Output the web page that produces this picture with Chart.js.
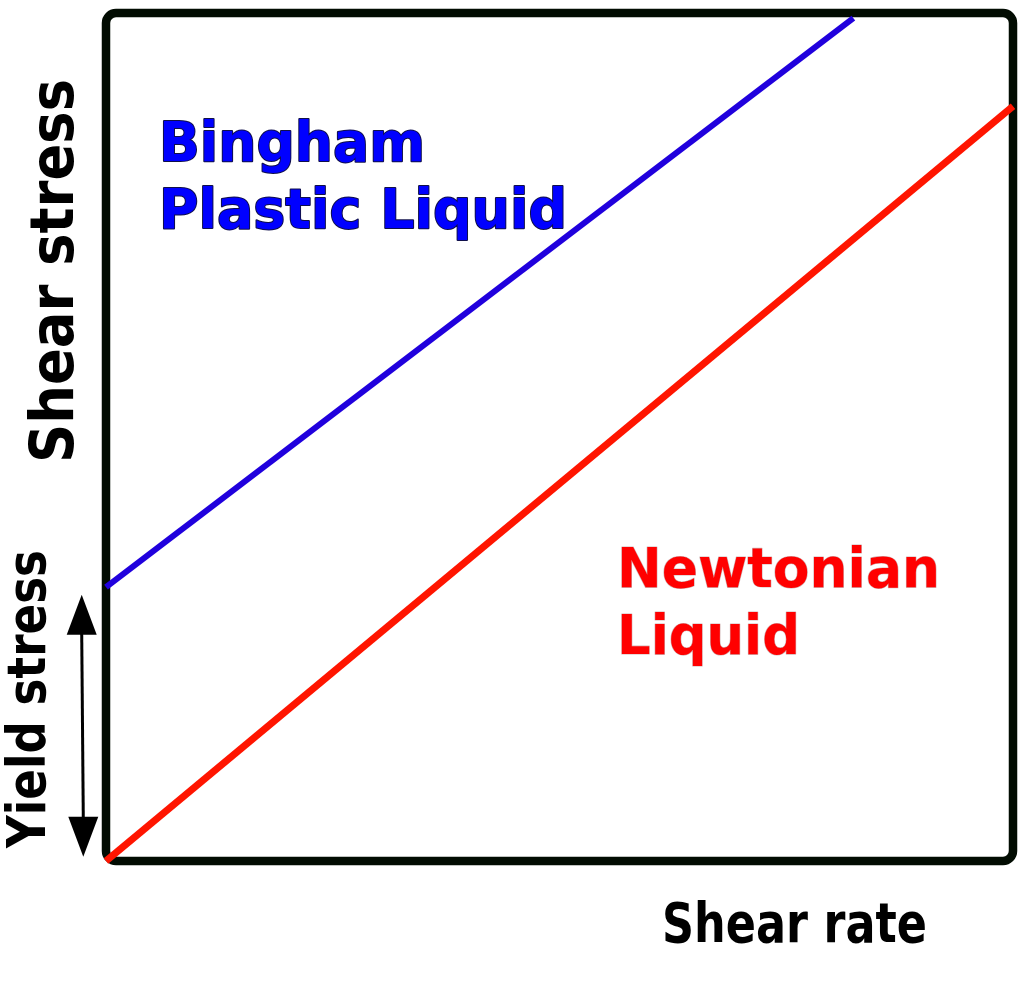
<!DOCTYPE html>
<html>
<head>
<meta charset="utf-8">
<script src="https://cdn.jsdelivr.net/npm/chart.js@4"></script>
<style>
  html, body { margin: 0; padding: 0; background: #ffffff; }
  canvas { display: block; }
</style>
</head>
<body>
<canvas id="c" width="1024" height="997"></canvas>
<script>
// Data (arbitrary units, 0–100 on each axis)
const newtonianRate   = [0, 100];
const newtonianStress = [0, 89];
const binghamRate     = [0, 82.4];
const binghamStress   = [32.3, 99.4];
const yieldRange      = [0.5, 31.4];   // yield-stress arrow extent (y units)

const xLabel = 'Shear rate';
const yLabel = 'Shear stress';
const yieldLabel = 'Yield stress';
const binghamLabel = ['Bingham', 'Plastic Liquid'];
const newtonLabel = ['Newtonian', 'Liquid'];

function pts(xs, ys) { return xs.map((x, i) => ({ x: x, y: ys[i] })); }

function drawScaledText(ctx, str, x, y, size, width, color, stroke, strokeW, rot) {
  ctx.save();
  ctx.translate(x, y);
  if (rot) ctx.rotate(rot);
  ctx.font = 'bold ' + size + 'px "DejaVu Sans"';
  ctx.textBaseline = 'alphabetic';
  ctx.textAlign = 'left';
  const m = ctx.measureText(str).width;
  ctx.scale(width / m, 1);
  if (stroke) {
    ctx.lineJoin = 'round';
    ctx.strokeStyle = stroke;
    ctx.lineWidth = strokeW;
    ctx.strokeText(str, 0, 0);
  }
  ctx.fillStyle = color;
  ctx.fillText(str, 0, 0);
  ctx.restore();
}

const framePlugin = {
  id: 'frame',
  beforeDatasetsDraw(chart) {
    const { ctx, chartArea: a } = chart;
    ctx.save();
    ctx.strokeStyle = '#020c02';
    ctx.lineWidth = 8.5;
    ctx.beginPath();
    ctx.roundRect(a.left, a.top, a.right - a.left, a.bottom - a.top, 10);
    ctx.stroke();
    ctx.restore();
  },
  afterDraw(chart) {
    const { ctx } = chart;
    const ys = chart.scales.y;
    // Yield stress arrow
    const yTop = ys.getPixelForValue(yieldRange[1]);
    const yBot = ys.getPixelForValue(yieldRange[0]);
    const xTop = 81.7, xBot = 83.3;
    const hl = 40, hw = 15;
    ctx.save();
    ctx.strokeStyle = '#000';
    ctx.fillStyle = '#000';
    ctx.lineWidth = 3;
    ctx.beginPath();
    ctx.moveTo(xTop, yTop + hl - 2);
    ctx.lineTo(xBot, yBot - hl + 2);
    ctx.stroke();
    ctx.beginPath();
    ctx.moveTo(xTop, yTop);
    ctx.lineTo(xTop + hw, yTop + hl);
    ctx.lineTo(xTop - hw, yTop + hl);
    ctx.closePath();
    ctx.fill();
    ctx.beginPath();
    ctx.moveTo(xBot, yBot);
    ctx.lineTo(xBot + hw, yBot - hl);
    ctx.lineTo(xBot - hw, yBot - hl);
    ctx.closePath();
    ctx.fill();
    ctx.restore();

    // Texts
    drawScaledText(ctx, binghamLabel[0], 159, 161, 55, 266, '#0000ff', '#10104a', 2);
    drawScaledText(ctx, binghamLabel[1], 159, 228, 55, 408, '#0000ff', '#10104a', 2);
    drawScaledText(ctx, newtonLabel[0], 617, 587, 55, 323, '#ff0000', 'rgba(120,40,40,0.35)', 1.2);
    drawScaledText(ctx, newtonLabel[1], 617, 654, 55, 183, '#ff0000', 'rgba(120,40,40,0.35)', 1.2);
    drawScaledText(ctx, xLabel, 662, 942, 56, 265, '#000000');
    drawScaledText(ctx, yLabel, 73, 463, 60, 384, '#000000', null, 0, -Math.PI / 2);
    drawScaledText(ctx, yieldLabel, 45, 848, 54, 298, '#000000', null, 0, -Math.PI / 2);
  }
};

new Chart(document.getElementById('c'), {
  type: 'line',
  data: {
    datasets: [
      {
        label: 'Bingham Plastic Liquid',
        data: pts(binghamRate, binghamStress),
        borderColor: '#2000dd',
        borderWidth: 6,
        borderCapStyle: 'butt',
        pointRadius: 0,
        tension: 0,
        clip: false,
        fill: false
      },
      {
        label: 'Newtonian Liquid',
        data: pts(newtonianRate, newtonianStress),
        borderColor: '#ff1500',
        borderWidth: 7,
        borderCapStyle: 'butt',
        pointRadius: 0,
        tension: 0,
        clip: false,
        fill: false
      }
    ]
  },
  options: {
    responsive: false,
    animation: false,
    devicePixelRatio: 1,
    layout: { padding: { left: 106, right: 11, top: 13, bottom: 136 } },
    plugins: { legend: { display: false }, tooltip: { enabled: false }, title: { display: false } },
    scales: {
      x: { type: 'linear', min: 0, max: 100, display: false },
      y: { type: 'linear', min: 0, max: 100, display: false }
    }
  },
  plugins: [framePlugin]
});
</script>
</body>
</html>
